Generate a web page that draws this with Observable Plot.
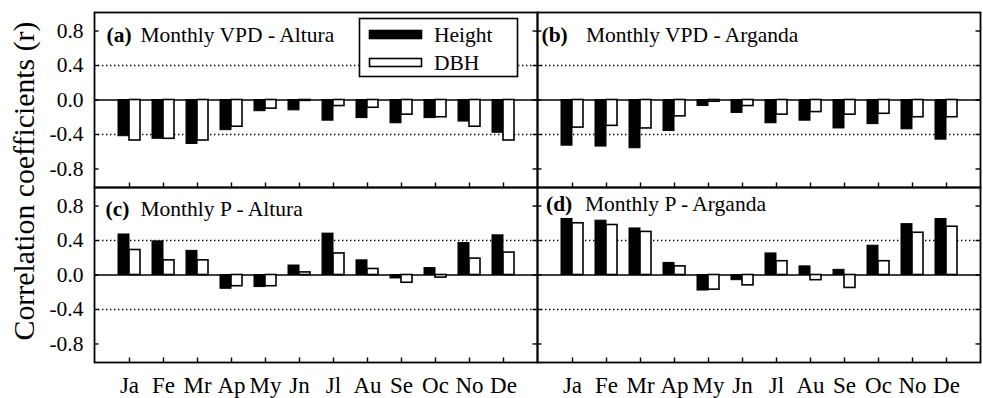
<!DOCTYPE html>
<html><head><meta charset="utf-8">
<script src="https://cdn.jsdelivr.net/npm/d3@7"></script>
<script src="https://cdn.jsdelivr.net/npm/@observablehq/plot@0.6"></script>
<style>
body{margin:0;background:#fff}
#chart{position:relative;width:983px;height:398px}
</style>
</head><body><div id="chart"></div>
<script>
const months = ["Ja","Fe","Mr","Ap","My","Jn","Jl","Au","Se","Oc","No","De"];
const stations = ["Altura","Arganda"];
const variables = ["VPD","P"];
const seriesNames = ["Height","DBH"];
const yTicks = [-0.8,-0.4,0,0.4,0.8];
const refLines = [-0.4,0.4];

const vpdAlturaHeight  = [-0.42,-0.45,-0.51,-0.35,-0.13,-0.12,-0.24,-0.21,-0.27,-0.21,-0.25,-0.38];
const vpdAlturaDBH     = [-0.47,-0.45,-0.47,-0.31,-0.10,-0.01,-0.07,-0.09,-0.17,-0.20,-0.31,-0.47];
const vpdArgandaHeight = [-0.53,-0.54,-0.56,-0.36,-0.07,-0.15,-0.27,-0.24,-0.33,-0.28,-0.34,-0.46];
const vpdArgandaDBH    = [-0.32,-0.30,-0.33,-0.19,-0.02,-0.07,-0.17,-0.14,-0.17,-0.16,-0.20,-0.20];
const pAlturaHeight    = [0.47,0.39,0.28,-0.16,-0.14,0.11,0.48,0.17,-0.04,0.08,0.37,0.46];
const pAlturaDBH       = [0.29,0.17,0.17,-0.13,-0.13,0.03,0.25,0.07,-0.09,-0.03,0.19,0.26];
const pArgandaHeight   = [0.65,0.63,0.54,0.14,-0.18,-0.06,0.25,0.10,0.06,0.34,0.59,0.65];
const pArgandaDBH      = [0.60,0.58,0.50,0.10,-0.17,-0.12,0.16,-0.06,-0.15,0.16,0.49,0.56];

const panelTags   = ["(a)","(b)","(c)","(d)"];
const panelTitles = ["Monthly VPD - Altura","Monthly VPD - Arganda","Monthly P - Altura","Monthly P - Arganda"];
const yTitle = "Correlation coefficients (r)";

const panels = [
  {station:"Altura",  variable:"VPD", h: vpdAlturaHeight,  d: vpdAlturaDBH},
  {station:"Arganda", variable:"VPD", h: vpdArgandaHeight, d: vpdArgandaDBH},
  {station:"Altura",  variable:"P",   h: pAlturaHeight,    d: pAlturaDBH},
  {station:"Arganda", variable:"P",   h: pArgandaHeight,   d: pArgandaDBH}
].map((p,i)=>({...p, tag: panelTags[i], title: panelTitles[i]}));

const rows = [];
panels.forEach(p => months.forEach((m,i) => {
  rows.push({station:p.station, variable:p.variable, month:m, series:seriesNames[0], value:p.h[i]});
  rows.push({station:p.station, variable:p.variable, month:m, series:seriesNames[1], value:p.d[i]});
}));

const FW = 443.5, FH = 175.5; // facet size, for inward tick length
const tagOffsets   = [[12,14.5],[4,14.5],[11,13.5],[8.5,8.5]];
const titleOffsets = [[46,14.5],[48.5,14.5],[46,13.5],[47.5,8.5]];

const font = "'Liberation Serif','Times New Roman',serif";

const plot = Plot.plot({
  width: 983, height: 398,
  marginLeft: 93, marginRight: 3, marginTop: 11, marginBottom: 36,
  style: {fontFamily: font, fontSize: "21.5px", color: "black", background: "white"},
  fx: {domain: stations, padding: 0, axis: null},
  fy: {domain: variables, padding: 0, axis: null},
  x: {type: "band", domain: months, paddingInner: 0.357, paddingOuter: 0.68},
  y: {domain: [-1.015, 1.015]},
  marks: [
    Plot.ruleY(refLines, {y: d=>d, stroke: "black", strokeWidth: 1.4, strokeDasharray: "1.4,2.6"}),
    Plot.ruleY([0], {y: d=>d, stroke: "black", strokeWidth: 1.6}),
    Plot.barY(rows.filter(r=>r.series==="Height"), {fx:"station", fy:"variable", x:"month", y:"value", fill:"black", stroke:"black", strokeWidth:1, insetRight: 11}),
    Plot.barY(rows.filter(r=>r.series==="DBH"), {fx:"station", fy:"variable", x:"month", y:"value", fill:"white", stroke:"black", strokeWidth:1.6, insetLeft: 11}),
    Plot.tickY(yTicks, {y: d=>d, stroke:"black", strokeWidth:1.4, insetRight: FW-5}),
    Plot.tickY(yTicks, {y: d=>d, stroke:"black", strokeWidth:1.4, insetLeft: FW-5}),
    Plot.tickX(months, {x: d=>d, stroke:"black", strokeWidth:1.4, insetTop: FH-5}),
    Plot.frame({stroke: "black", strokeWidth: 1.8}),
    Plot.axisY(yTicks, {anchor:"left", tickSize:0, tickPadding:11, tickFormat: d=>d.toFixed(1), fontSize: 21.5, label: null}),
    Plot.axisX({anchor:"bottom", tickSize:0, tickPadding:14, fontSize: 23, label: null}),
    ...panels.map((p,i) => Plot.text([p], {fx:"station", fy:"variable", text:"tag", frameAnchor:"top-left", textAnchor:"start", lineAnchor:"top", dx: tagOffsets[i][0], dy: tagOffsets[i][1], fontWeight:"bold", fontSize: 21.5})),
    ...panels.map((p,i) => Plot.text([p], {fx:"station", fy:"variable", text:"title", frameAnchor:"top-left", textAnchor:"start", lineAnchor:"top", dx: titleOffsets[i][0], dy: titleOffsets[i][1], fontSize: 21.5}))
  ]
});

const svg = d3.select(plot);
// y-axis title
svg.append("text")
  .attr("transform", "translate(34,181) rotate(-90)")
  .attr("text-anchor", "middle")
  .style("font-family", font)
  .style("font-size", "29.8px")
  .attr("fill", "black")
  .text(yTitle);
// legend
const lg = svg.append("g");
lg.append("rect").attr("x",359.5).attr("y",18.5).attr("width",158).attr("height",58)
  .attr("fill","white").attr("stroke","black").attr("stroke-width",1.6);
const legendFill = ["black","white"];
seriesNames.forEach((s,i) => {
  lg.append("rect").attr("x",369.5).attr("y",30.5+i*28).attr("width",52).attr("height",8)
    .attr("fill",legendFill[i]).attr("stroke","black").attr("stroke-width",1.6);
  lg.append("text").attr("x",434).attr("y",41.5+i*28).attr("fill","black")
    .attr("text-anchor","start")
    .style("font-family", font).style("font-size","21.5px")
    .text(s);
});

document.getElementById("chart").appendChild(plot);
</script>
</body></html>
